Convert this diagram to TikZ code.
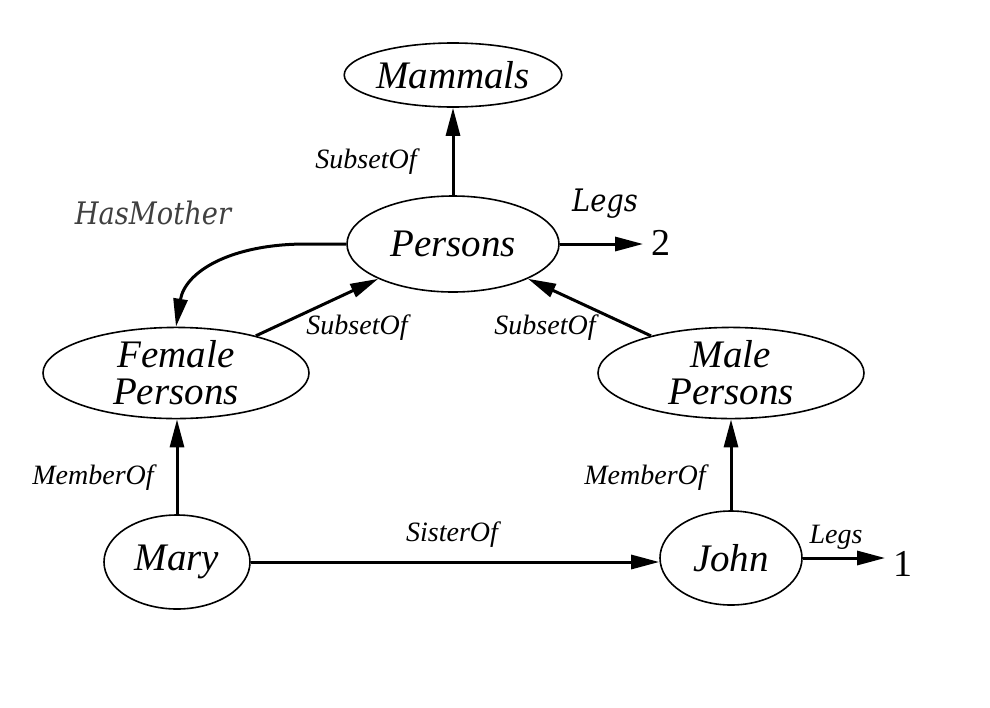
\documentclass[tikz,border=0pt]{standalone}
\usepackage{fontspec}
\setmainfont{Liberation Serif}
\newfontfamily\djv[FakeStretch=0.88]{DejaVu Serif}
\usetikzlibrary{shapes.geometric,arrows.meta}
\begin{document}
\begin{tikzpicture}[x=0.5pt,y=-0.5pt,
  ell/.style={ellipse,draw,line width=0.8pt,inner sep=0pt,align=center,
    font=\fontsize{19.5}{18.5}\selectfont\itshape},
  arr/.style={line width=1.5pt,-{Triangle[length=14pt,width=7pt]}},
  lab/.style={font=\fontsize{14}{16}\selectfont\itshape,inner sep=0pt},
  dlab/.style={font=\djv\fontsize{15.5}{17}\selectfont\itshape,inner sep=0pt},
  num/.style={font=\fontsize{19}{20}\selectfont,inner sep=4pt}]
\useasboundingbox (0,0) rectangle (990,707);
% nodes
\node[ell,minimum width=106pt,minimum height=32pt] (mam) at (453,75) {Mammals};
\node[ell,minimum width=106pt,minimum height=48pt] (p) at (453,244) {Persons};
\node[ell,minimum width=133pt,minimum height=40pt] (fp) at (176,373) {Female\\Persons};
\node[ell,minimum width=133pt,minimum height=40pt] (mp) at (731,373) {Male\\Persons};
\node[ell,minimum width=73pt,minimum height=47pt] (mary) at (177,562) {Mary};
\node[ell,minimum width=71pt,minimum height=47pt] (john) at (731,558) {John};
\node[num] (two) at (661,243) {2};
\node[num] (one) at (903,564) {1};
% connectors
\draw[arr] (p) -- (mam);
\draw[arr] (fp) -- (p);
\draw[arr] (mp) -- (p);
\draw[arr] (mary.north) -- (mary.north |- fp.south);
\draw[arr] (john.north) -- (john.north |- mp.south);
\draw[arr] (mary.east) -- (mary.east -| john.west);
\draw[arr] (p.east) -- (p.east -| two.west);
\draw[arr] (john.east) -- (john.east -| one.west);
\draw[arr] (p.west) -- ++(-40,0) .. controls (230,244) and (185,272) .. (fp.north);
% labels
\node[lab] (l1) at (366,162) {SubsetOf};
\node[lab] (l2) at (357,328) {SubsetOf};
\node[lab] (l3) at (545,328) {SubsetOf};
\node[lab] (l4) at (93,478) {MemberOf};
\node[lab] (l5) at (645,478) {MemberOf};
\node[lab] (l6) at (452,535) {SisterOf};
\node[lab] (l7) at (836,537) {Legs};
\node[dlab] (l8) at (605,204) {Legs};
\node[dlab,text=black!75] (l9) at (153,213) {HasMother};
\end{tikzpicture}
\end{document}
